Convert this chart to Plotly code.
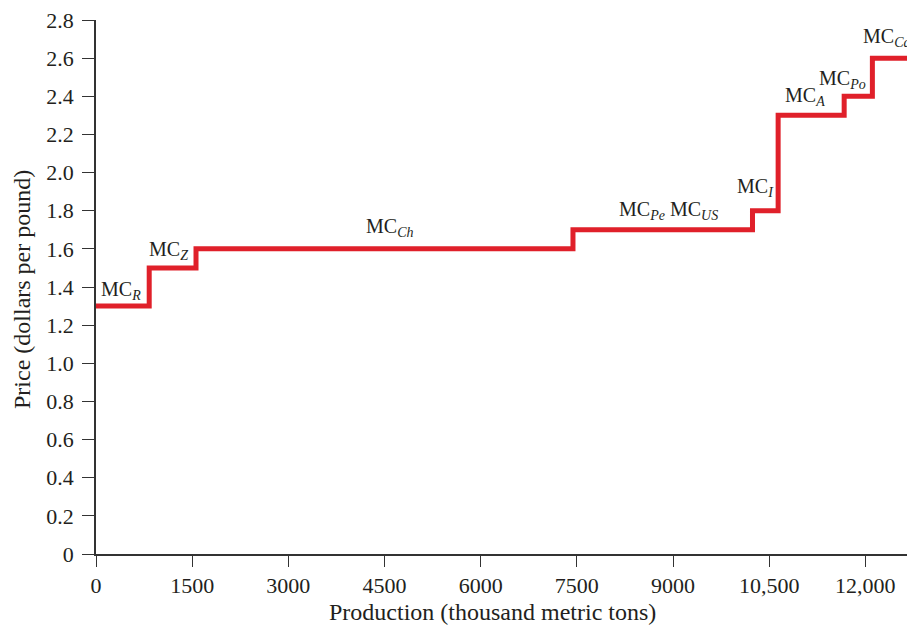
import plotly.graph_objects as go

# Step supply curve: quantity where each step starts, and its marginal cost
step_start = [0, 830, 1560, 7440, 10240, 10640, 11670, 12110, 12700]
step_price = [1.3, 1.5, 1.6, 1.7, 1.8, 2.3, 2.4, 2.6, 2.6]

# Labels for each producer's step
label_text = ["MC<sub><i>R</i></sub>", "MC<sub><i>Z</i></sub>", "MC<sub><i>Ch</i></sub>",
              "MC<sub><i>Pe</i></sub> MC<sub><i>US</i></sub>", "MC<sub><i>I</i></sub>",
              "MC<sub><i>A</i></sub>", "MC<sub><i>Po</i></sub>", "MC<sub><i>Ca</i></sub>"]
label_x = [390, 1130, 4580, 8930, 10290, 11060, 11650, 12330]
label_y = [1.38, 1.59, 1.71, 1.80, 1.92, 2.40, 2.49, 2.71]

x_ticks = [0, 1500, 3000, 4500, 6000, 7500, 9000, 10500, 12000]
x_ticktext = ["0", "1500", "3000", "4500", "6000", "7500", "9000", "10,500", "12,000"]
y_ticks = [0, 0.2, 0.4, 0.6, 0.8, 1.0, 1.2, 1.4, 1.6, 1.8, 2.0, 2.2, 2.4, 2.6, 2.8]
y_ticktext = ["0", "0.2", "0.4", "0.6", "0.8", "1.0", "1.2", "1.4", "1.6", "1.8",
              "2.0", "2.2", "2.4", "2.6", "2.8"]

FONT = "Liberation Serif, DejaVu Serif, serif"
TXT = "#231f20"

fig = go.Figure()
fig.add_trace(go.Scatter(x=step_start, y=step_price, mode="lines", line_shape="hv",
                         line=dict(color="#e0202a", width=5), hoverinfo="skip",
                         showlegend=False))

for t, x, y in zip(label_text, label_x, label_y):
    fig.add_annotation(x=x, y=y, text=t, showarrow=False, xanchor="center", yanchor="middle",
                       font=dict(family=FONT, size=20, color=TXT))

# Axis titles
fig.add_annotation(x=(492 - 96) / 811, xref="paper", y=-(612 - 554) / 534, yref="paper",
                   text="Production (thousand metric tons)", showarrow=False,
                   xanchor="center", yanchor="middle",
                   font=dict(family=FONT, size=24, color=TXT))
fig.add_annotation(x=-(96 - 22) / 811, xref="paper", y=(554 - 290) / 534, yref="paper",
                   text="Price (dollars per pound)", showarrow=False, textangle=-90,
                   xanchor="center", yanchor="middle",
                   font=dict(family=FONT, size=24, color=TXT))

fig.update_layout(
    width=907, height=627,
    margin=dict(l=96, r=0, t=20, b=73, autoexpand=False),
    paper_bgcolor="white", plot_bgcolor="white",
    font=dict(family=FONT, size=22, color=TXT),
    xaxis=dict(range=[0, 12650], tickvals=x_ticks, ticktext=x_ticktext, automargin=False,
               showgrid=False, zeroline=False, showline=True, linecolor="#333", linewidth=1.5,
               ticks="outside", ticklen=11, tickcolor="#333", tickwidth=1.2,
               tickfont=dict(family=FONT, size=22, color=TXT)),
    yaxis=dict(range=[0, 2.8], tickvals=y_ticks, ticktext=y_ticktext, automargin=False,
               showgrid=False, zeroline=False, showline=True, linecolor="#333", linewidth=1.5,
               ticks="outside", ticklen=12, tickcolor="#333", tickwidth=1.2,
               ticklabelstandoff=4,
               tickfont=dict(family=FONT, size=22, color=TXT)),
)

fig.write_html("out.html", config={"displayModeBar": False},
               post_script="document.body.style.margin='0';")
